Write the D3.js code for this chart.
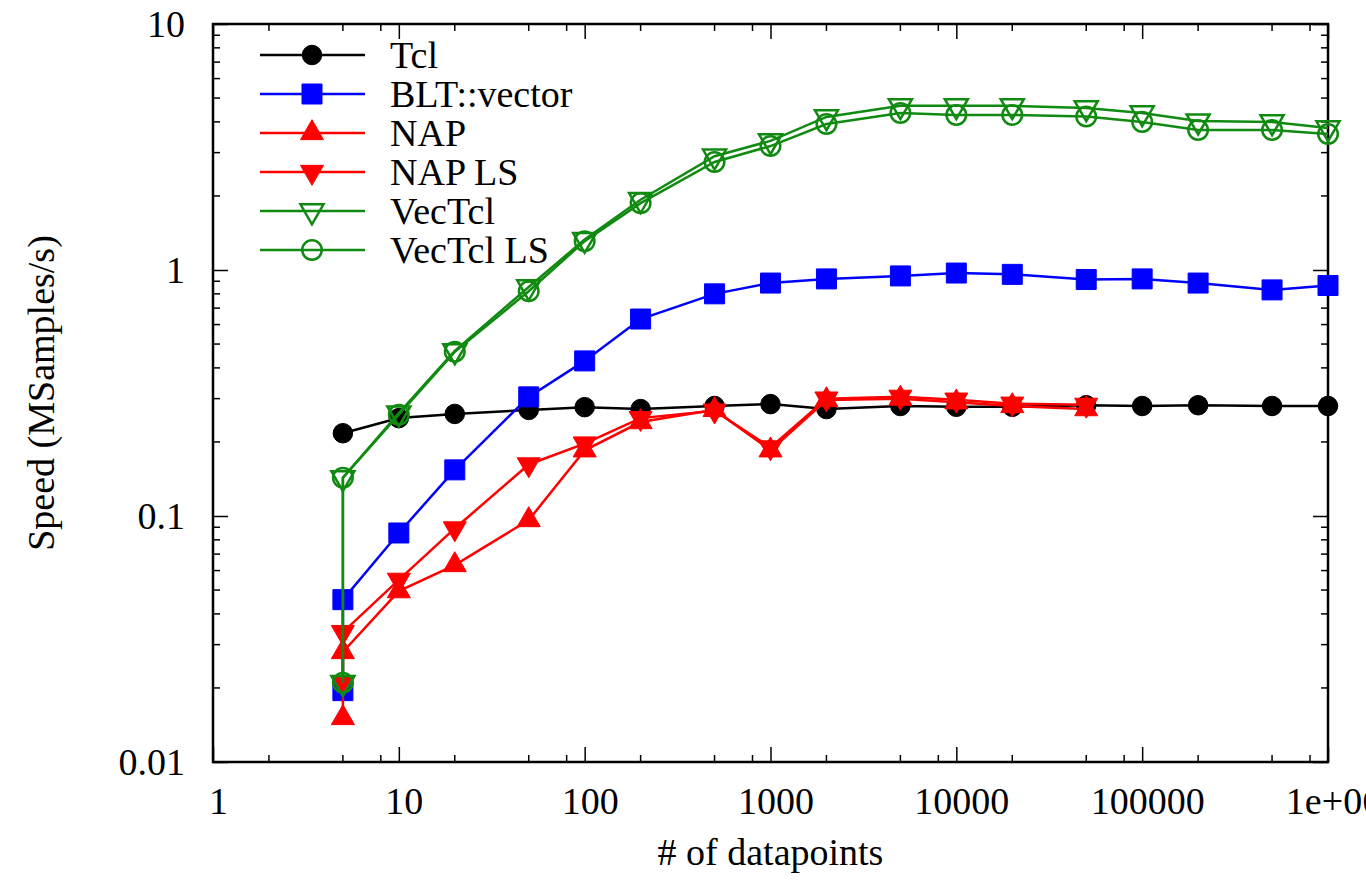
<!DOCTYPE html>
<html>
<head>
<meta charset="utf-8">
<script src="https://cdn.jsdelivr.net/npm/d3@7"></script>
<style>
  body { margin: 0; background: #fff; }
  svg text { font-family: 'Liberation Serif', 'Times New Roman', serif; fill: #000; }
</style>
</head>
<body>
<svg id="chart" width="1366" height="880" font-family="Liberation Serif"></svg>
<script>
// DATA
var sizesTcl = [5, 10, 20, 50, 100, 200, 500, 1000, 2000, 5000, 10000, 20000, 50000, 100000, 200000, 500000, 1000000],
  sizesWarm = [5, 5, 10, 20, 50, 100, 200, 500, 1000, 2000, 5000, 10000, 20000, 50000, 100000, 200000, 500000, 1000000],
  sizesNap = [5, 5, 10, 20, 50, 100, 200, 500, 1000, 2000, 5000, 10000, 20000, 50000];

var tclSpeed = [0.217, 0.25, 0.26, 0.27, 0.277, 0.272, 0.28, 0.285, 0.272, 0.28, 0.278, 0.278, 0.282, 0.28, 0.282, 0.28, 0.28],
  bltSpeed = [0.0195, 0.0457, 0.0853, 0.154, 0.305, 0.427, 0.632, 0.80, 0.885, 0.92, 0.946, 0.972, 0.96, 0.915, 0.92, 0.885, 0.83, 0.865],
  napSpeed = [0.0151, 0.028, 0.0495, 0.0632, 0.0963, 0.185, 0.241, 0.27, 0.185, 0.296, 0.30, 0.29, 0.28, 0.272],
  napLsSpeed = [0.021, 0.0337, 0.055, 0.089, 0.162, 0.197, 0.25, 0.268, 0.19, 0.30, 0.305, 0.297, 0.286, 0.283],
  vecSpeed = [0.021, 0.143, 0.262, 0.469, 0.853, 1.33, 1.93, 2.9, 3.35, 4.19, 4.65, 4.65, 4.65, 4.56, 4.35, 4.03, 4.0, 3.78],
  vecLsSpeed = [0.021, 0.143, 0.258, 0.465, 0.82, 1.31, 1.87, 2.75, 3.19, 3.92, 4.35, 4.27, 4.27, 4.21, 4.0, 3.71, 3.71, 3.57];

var xTicks = [1, 10, 100, 1000, 10000, 100000, 1000000],
  xTickLabels = ["1", "10", "100", "1000", "10000", "100000", "1e+06"],
  yTicks = [0.01, 0.1, 1, 10],
  yTickLabels = ["0.01", "0.1", "1", "10"];

// series table built from the arrays above
var series = [
  { name: "Tcl", xs: sizesTcl, ys: tclSpeed, color: "#000000", shape: "circle", open: false },
  { name: "BLT::vector", xs: sizesWarm, ys: bltSpeed, color: "#0000ff", shape: "square", open: false },
  { name: "NAP", xs: sizesNap, ys: napSpeed, color: "#ff0000", shape: "up", open: false },
  { name: "NAP LS", xs: sizesNap, ys: napLsSpeed, color: "#ff0000", shape: "down", open: false },
  { name: "VecTcl", xs: sizesWarm, ys: vecSpeed, color: "#108a10", shape: "down", open: true },
  { name: "VecTcl LS", xs: sizesWarm, ys: vecLsSpeed, color: "#108a10", shape: "circle", open: true }
];

var svg = d3.select("#chart"),
  plotL = 213, plotR = 1328, plotT = 24, plotB = 762,
  serif = "'Liberation Serif', 'Times New Roman', serif",
  fontSize = "38px";

var x = d3.scaleLog().domain([1, 1e6]).range([plotL, plotR]),
  y = d3.scaleLog().domain([0.01, 10]).range([plotB, plotT]);

svg.append("rect").attr("width", 1366).attr("height", 880).attr("fill", "#fff");

// minor ticks: x shows 2,5,8 per decade, y shows 2..9
var xMinor = [], yMinor = [];
xTicks.slice(0, -1).forEach(function(d) {
  [2, 5, 8].forEach(function(m) { xMinor.push(d * m); });
});
yTicks.slice(0, -1).forEach(function(d) {
  d3.range(2, 10).forEach(function(m) { yMinor.push(d * m); });
});

// Axes (inward ticks, gnuplot style)
var gxb = svg.append("g").attr("transform", "translate(0," + plotB + ")");
gxb.call(d3.axisBottom(x).tickValues(xTicks).tickSize(-15).tickPadding(25).tickFormat(function(d, i) { return xTickLabels[i]; }));
gxb.select(".domain").remove();
gxb.selectAll(".tick text").attr("x", 5); // labels sit a little right of the tick
gxb.selectAll(".minor").data(xMinor).enter().append("line")
  .attr("x1", x).attr("x2", x).attr("y1", 0).attr("y2", -7)
  .attr("stroke", "#000").attr("stroke-width", 1.5);

var gxt = svg.append("g").attr("transform", "translate(0," + plotT + ")");
gxt.call(d3.axisTop(x).tickValues(xTicks).tickSize(-15).tickFormat(""));
gxt.select(".domain").remove();
gxt.selectAll(".minor").data(xMinor).enter().append("line")
  .attr("x1", x).attr("x2", x).attr("y1", 0).attr("y2", 7)
  .attr("stroke", "#000").attr("stroke-width", 1.5);

var gyl = svg.append("g").attr("transform", "translate(" + plotL + ",0)");
gyl.call(d3.axisLeft(y).tickValues(yTicks).tickSize(-15).tickPadding(28).tickFormat(function(d, i) { return yTickLabels[i]; }));
gyl.select(".domain").remove();
gyl.selectAll(".minor").data(yMinor).enter().append("line")
  .attr("y1", y).attr("y2", y).attr("x1", 0).attr("x2", 7)
  .attr("stroke", "#000").attr("stroke-width", 1.5);

var gyr = svg.append("g").attr("transform", "translate(" + plotR + ",0)");
gyr.call(d3.axisRight(y).tickValues(yTicks).tickSize(-15).tickFormat(""));
gyr.select(".domain").remove();
gyr.selectAll(".minor").data(yMinor).enter().append("line")
  .attr("y1", y).attr("y2", y).attr("x1", 0).attr("x2", -7)
  .attr("stroke", "#000").attr("stroke-width", 1.5);

svg.selectAll("g").attr("font-family", serif);
svg.selectAll(".tick line").attr("stroke", "#000").attr("stroke-width", 1.5);
svg.selectAll(".tick text")
  .attr("fill", "#000")
  .style("font-size", fontSize)
  .style("font-family", serif);

// frame
svg.append("rect")
  .attr("x", plotL).attr("y", plotT)
  .attr("width", plotR - plotL).attr("height", plotB - plotT)
  .attr("fill", "none").attr("stroke", "#000").attr("stroke-width", 2.5);

// axis titles
svg.append("text")
  .attr("transform", "translate(41," + ((plotT + plotB) / 2) + ") rotate(-90)")
  .attr("text-anchor", "middle").attr("dy", "0.35em")
  .style("font-family", serif).style("font-size", fontSize)
  .text("Speed (MSamples/s)");

svg.append("text")
  .attr("x", (plotL + plotR) / 2).attr("y", 852)
  .attr("text-anchor", "middle").attr("dy", "0.35em")
  .style("font-family", serif).style("font-size", fontSize)
  .text("# of datapoints");

// marker path per shape
function markerPath(shape) {
  if (shape === "circle") return d3.symbol(d3.symbolCircle, 300)();
  if (shape === "square") return d3.symbol(d3.symbolSquare, 400)();
  return d3.symbol(d3.symbolTriangle, 230)();
}

function drawMarker(g, s, cx, cy) {
  g.append("path")
    .attr("d", markerPath(s.shape))
    .attr("transform", "translate(" + cx + "," + cy + ")" + (s.shape === "down" ? " rotate(180)" : ""))
    .attr("fill", s.open ? "none" : s.color)
    .attr("stroke", s.color)
    .attr("stroke-width", s.open ? 2.5 : 1);
}

var line = d3.line().x(function(d) { return x(d[0]); }).y(function(d) { return y(d[1]); });

// Draw the series
series.forEach(function(s) {
  var pts = d3.zip(s.xs, s.ys);
  var g = svg.append("g");
  g.append("path").datum(pts)
    .attr("d", line)
    .attr("fill", "none").attr("stroke", s.color).attr("stroke-width", 2.5);
  pts.forEach(function(p) { drawMarker(g, s, x(p[0]), y(p[1])); });
});

// Legend
var legend = svg.append("g");
series.forEach(function(s, i) {
  var ly = 55 + i * 39;
  legend.append("line")
    .attr("x1", 260).attr("x2", 365).attr("y1", ly).attr("y2", ly)
    .attr("stroke", s.color).attr("stroke-width", 2.5);
  drawMarker(legend, s, 312, ly);
  legend.append("text")
    .attr("x", 390).attr("y", ly).attr("dy", "0.35em")
    .style("font-family", serif).style("font-size", fontSize)
    .text(s.name);
});
</script>
</body>
</html>
